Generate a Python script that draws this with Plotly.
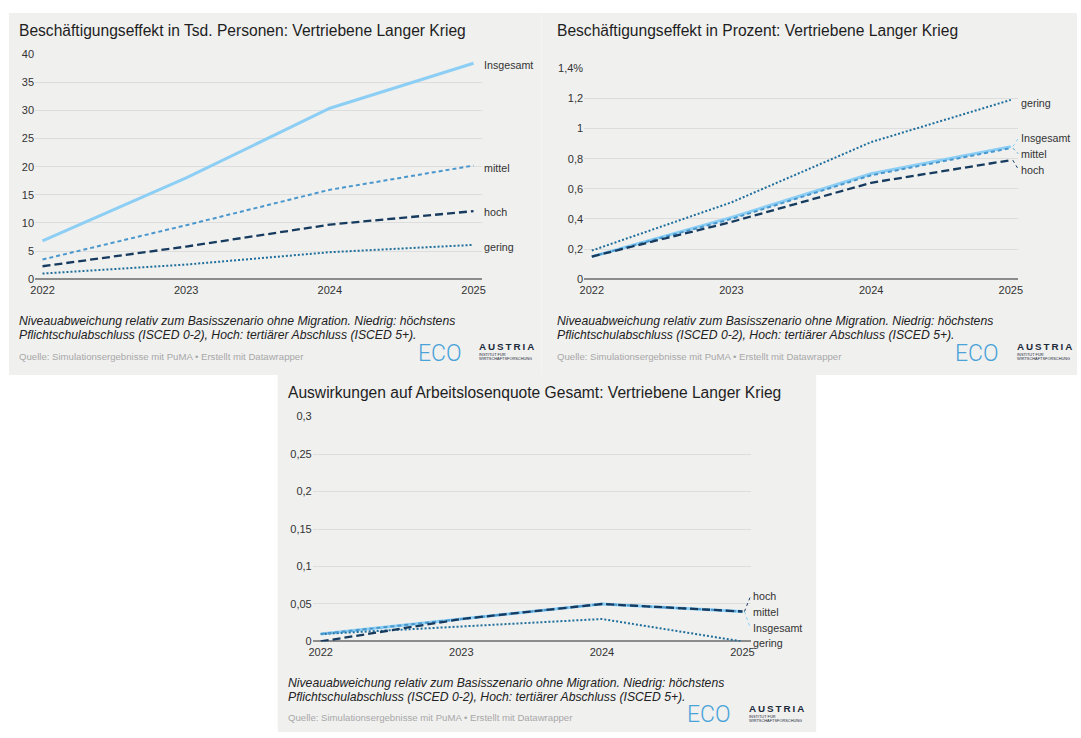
import plotly.graph_objects as go

W, H = 1081, 738

years = [2022, 2023, 2024, 2025]
series_names = ["Insgesamt", "mittel", "hoch", "gering"]

# Beschäftigungseffekt in Tsd. Personen
p1_insgesamt = [6.8, 18.0, 30.4, 38.4]
p1_mittel = [3.5, 9.6, 15.9, 20.2]
p1_hoch = [2.3, 5.8, 9.7, 12.1]
p1_gering = [1.0, 2.6, 4.8, 6.1]
p1_tickvals = [0, 5, 10, 15, 20, 25, 30, 35, 40]
p1_ticktext = ["0", "5", "10", "15", "20", "25", "30", "35", "40"]

# Beschäftigungseffekt in Prozent
p2_insgesamt = [0.15, 0.41, 0.70, 0.88]
p2_mittel = [0.15, 0.40, 0.69, 0.87]
p2_hoch = [0.15, 0.38, 0.64, 0.79]
p2_gering = [0.19, 0.51, 0.91, 1.19]
p2_tickvals = [0, 0.2, 0.4, 0.6, 0.8, 1.0, 1.2, 1.4]
p2_ticktext = ["0", "0,2", "0,4", "0,6", "0,8", "1", "1,2", "1,4%"]

# Arbeitslosenquote gesamt
p3_insgesamt = [0.01, 0.03, 0.05, 0.04]
p3_mittel = [0.01, 0.03, 0.05, 0.04]
p3_hoch = [0.0, 0.03, 0.05, 0.04]
p3_gering = [0.01, 0.02, 0.03, 0.0]
p3_tickvals = [0, 0.05, 0.1, 0.15, 0.2, 0.25, 0.3]
p3_ticktext = ["0", "0,05", "0,1", "0,15", "0,2", "0,25", "0,3"]

titles = [
    "Beschäftigungseffekt in Tsd. Personen: Vertriebene Langer Krieg",
    "Beschäftigungseffekt in Prozent: Vertriebene Langer Krieg",
    "Auswirkungen auf Arbeitslosenquote Gesamt: Vertriebene Langer Krieg",
]
note_lines = [
    "Niveauabweichung relativ zum Basisszenario ohne Migration. Niedrig: höchstens",
    "Pflichtschulabschluss (ISCED 0-2), Hoch: tertiärer Abschluss (ISCED 5+).",
]
source_text = "Quelle: Simulationsergebnisse mit PuMA • Erstellt mit Datawrapper"

FONT = "Liberation Sans, Arial, sans-serif"
BG = "#f0f0ef"
TICK_SIZE = 11
LABEL_SIZE = 10.7

styles = {
    "Insgesamt": dict(color="#8dcff4", width=3, dash="solid"),
    "mittel": dict(color="#4a97cd", width=2, dash="4px,3px"),
    "hoch": dict(color="#163b5e", width=2.3, dash="8px,4px"),
    "gering": dict(color="#1f6e9c", width=2, dash="2px,2px"),
}
draw_order = ["Insgesamt", "gering", "mittel", "hoch"]


def px_x(p):
    return p / W


def px_y(p):
    return 1 - p / H


# per panel: background box, plot area (left, top, right, bottom) in px,
# axis ranges, label offsets at the line ends (px, downwards positive)
panels = [
    dict(
        box=(4, 7, 541, 375),
        plot=(30.3, 49, 481, 277.7),
        xrange=[2021.948, 2025.059],
        yrange=[0, 40],
        tickvals=p1_tickvals, ticktext=p1_ticktext,
        data={"Insgesamt": p1_insgesamt, "mittel": p1_mittel, "hoch": p1_hoch, "gering": p1_gering},
        label_dy={"Insgesamt": 2, "mittel": 2, "hoch": 1, "gering": 2},
        connectors=False,
        text_x=13, title_y=25,
        logo_x=415,
    ),
    dict(
        box=(541, 7, 1081, 375),
        plot=(584, 63.3, 1022, 277.7),
        xrange=[2021.945, 2025.055],
        yrange=[0, 1.4],
        tickvals=p2_tickvals, ticktext=p2_ticktext,
        data={"Insgesamt": p2_insgesamt, "mittel": p2_mittel, "hoch": p2_hoch, "gering": p2_gering},
        label_dy={"Insgesamt": -9, "mittel": 6, "hoch": 10, "gering": 3},
        connectors=True,
        text_x=555.5, title_y=25,
        logo_x=957,
    ),
    dict(
        box=(275, 372, 818, 738),
        plot=(310.3, 417.3, 752, 646),
        xrange=[2021.943, 2025.059],
        yrange=[0, 0.3],
        tickvals=p3_tickvals, ticktext=p3_ticktext,
        data={"Insgesamt": p3_insgesamt, "mittel": p3_mittel, "hoch": p3_hoch, "gering": p3_gering},
        label_dy={"Insgesamt": 17, "mittel": 1, "hoch": -15, "gering": 2},
        connectors=True,
        text_x=284, title_y=392.7,
        logo_x=687,
    ),
]

fig = go.Figure()
shapes = []
annotations = []
layout_axes = {}


def paper_text(x, y, text, size, color, family=FONT, weight=None):
    font = dict(family=family, size=size, color=color)
    if weight is not None:
        font["weight"] = weight
    annotations.append(dict(
        x=px_x(x), y=px_y(y), xref="paper", yref="paper", text=text,
        showarrow=False, xanchor="left", yanchor="middle", align="left",
        borderpad=0, font=font,
    ))


for i, pn in enumerate(panels):
    n = i + 1
    xa = "x" if n == 1 else f"x{n}"
    ya = "y" if n == 1 else f"y{n}"
    xkey = "xaxis" if n == 1 else f"xaxis{n}"
    ykey = "yaxis" if n == 1 else f"yaxis{n}"

    bx0, by0, bx1, by1 = pn["box"]
    shapes.append(dict(type="rect", xref="paper", yref="paper",
                       x0=px_x(bx0), x1=px_x(bx1), y0=px_y(by1), y1=px_y(by0),
                       fillcolor=BG, line=dict(width=0), layer="below"))

    lx0, ly0, lx1, ly1 = pn["plot"]
    layout_axes[xkey] = dict(
        domain=[px_x(lx0), px_x(lx1)], anchor=ya, range=pn["xrange"],
        tickvals=years, ticktext=[str(y) for y in years],
        showgrid=False, zeroline=False, showline=False, ticks="",
        ticklabelstandoff=3,
        tickfont=dict(family=FONT, size=TICK_SIZE, color="#333333"),
        fixedrange=True,
    )
    layout_axes[ykey] = dict(
        domain=[px_y(ly1), px_y(ly0)], anchor=xa, range=pn["yrange"],
        tickvals=pn["tickvals"], ticktext=pn["ticktext"],
        showgrid=True, gridcolor="#dddddd", gridwidth=1,
        zeroline=True, zerolinecolor="#8c8c8c", zerolinewidth=2,
        showline=False, ticks="",
        tickfont=dict(family=FONT, size=TICK_SIZE, color="#333333"),
        fixedrange=True,
    )

    for name in draw_order:
        st = styles[name]
        fig.add_trace(go.Scatter(
            x=years, y=pn["data"][name], mode="lines", name=name,
            xaxis=xa, yaxis=ya, showlegend=False, cliponaxis=False,
            line=dict(color=st["color"], width=st["width"], dash=st["dash"]),
            hoverinfo="skip",
        ))

    # direct labels at the line ends, with dotted leaders where shifted
    for name in series_names:
        val = pn["data"][name][-1]
        dy = pn["label_dy"][name]
        annotations.append(dict(
            x=years[-1], y=val, xref=xa, yref=ya, text=name, showarrow=False,
            xanchor="left", yanchor="middle", xshift=8.5, yshift=-dy,
            font=dict(family=FONT, size=LABEL_SIZE, color="#333333"),
        ))
        if pn["connectors"] and abs(dy) > 4:
            shapes.append(dict(
                type="line", xref=xa, yref=ya,
                xsizemode="pixel", ysizemode="pixel",
                xanchor=years[-1], yanchor=val,
                x0=2, y0=0, x1=8, y1=-dy,
                line=dict(color=styles[name]["color"], width=1, dash="dot"),
            ))

    tx, ty = pn["text_x"], pn["title_y"]
    paper_text(tx, ty, titles[i], 15.6, "#1e1e1e")
    for k, line in enumerate(note_lines):
        paper_text(tx, ty + 295 + 14.4 * k, f"<i>{line}</i>", 12.2, "#222222")
    paper_text(tx, ty + 331, source_text, 9.6, "#a8a8a8")

    # ECO AUSTRIA wordmark
    lg = pn["logo_x"]
    paper_text(lg, ty + 328, "ECO", 23, "#4aa3d8", family="Roboto, sans-serif", weight=300)
    paper_text(lg + 62, ty + 321, "A\u2009U\u2009S\u2009T\u2009R\u2009I\u2009A", 9.8, "#1c2b3a", weight=700)
    paper_text(lg + 62, ty + 329.5, "INSTITUT FÜR", 3.9, "#1c2b3a")
    paper_text(lg + 62, ty + 333.5, "WIRTSCHAFTSFORSCHUNG", 3.9, "#1c2b3a")

fig.update_layout(
    width=W, height=H,
    margin=dict(l=0, r=0, t=0, b=0),
    paper_bgcolor="white", plot_bgcolor="rgba(0,0,0,0)",
    shapes=shapes, annotations=annotations,
    showlegend=False,
    **layout_axes,
)

fig.write_html("out.html")
